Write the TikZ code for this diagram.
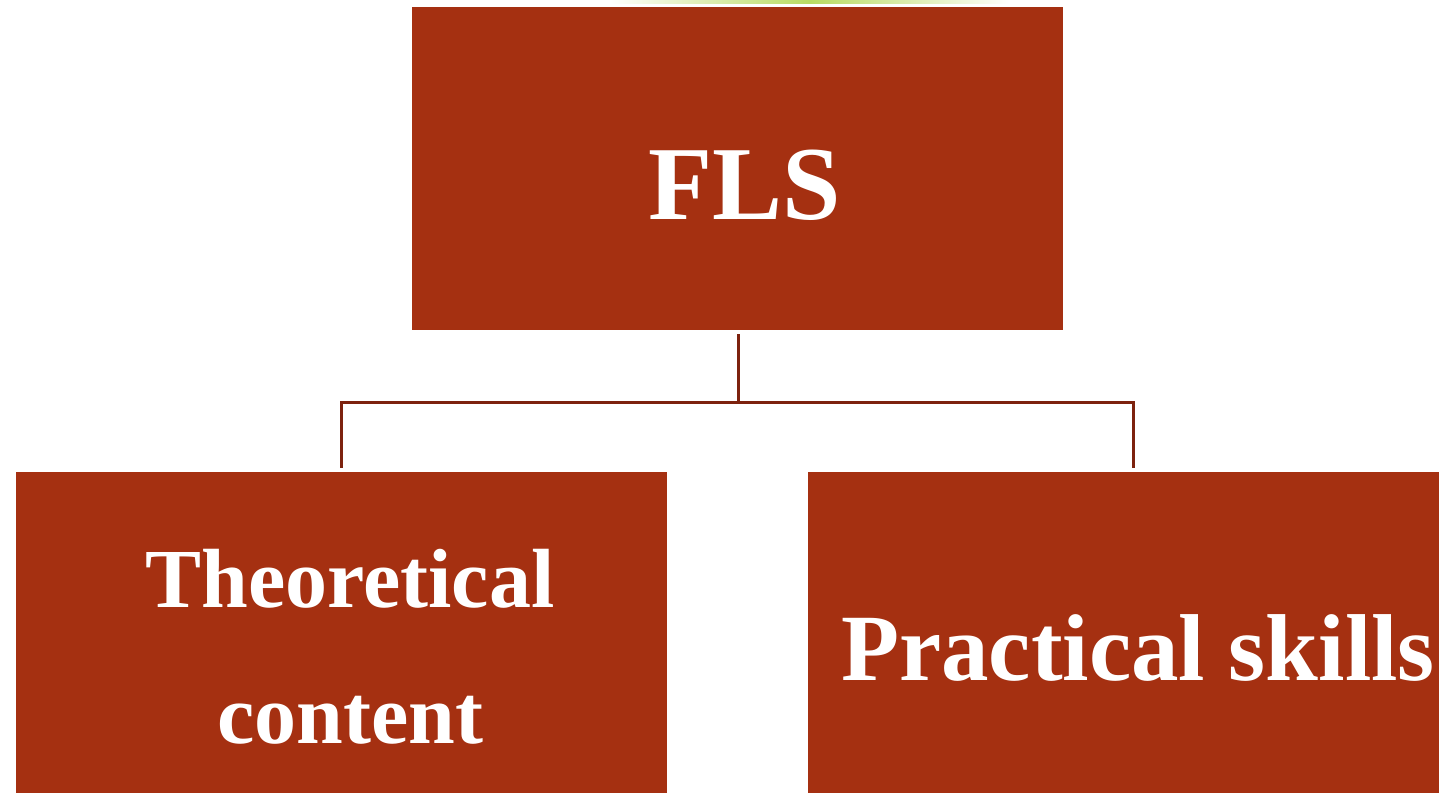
\documentclass[tikz,border=0pt]{standalone}
\usepackage{fontspec}
\setmainfont{Liberation Serif}
\definecolor{boxred}{RGB}{165,48,17}
\definecolor{linkred}{RGB}{125,34,14}
\definecolor{leaf}{RGB}{184,220,100}
\begin{document}
\begin{tikzpicture}[x=1pt,y=-1pt,
  box/.style={rectangle, fill=boxred, draw=none, inner sep=0pt,
    minimum width=651pt, minimum height=323pt},
  lbl/.style={text=white, font=\bfseries, inner sep=0pt},
  link/.style={draw=linkred, line width=3pt}]
  \useasboundingbox (0,0) rectangle (1439,792);
  \clip (0,0) rectangle (1439,792);
  % faint green band along the top edge
  \shade[left color=white, right color=white, middle color=leaf]
    (610,0) rectangle (1010,4);
  % boxes
  \node[box] (fls) at (737.5,168.5) {};
  \node[box] (theo) at (341,633.5) {};
  \node[box] (prac) at (1133,633.5) {};
  % labels
  \node[lbl, anchor=base, font=\bfseries\fontsize{105}{105}\selectfont]
    (flsT) at (745,219) {FLS};
  \node[lbl, anchor=base, font=\bfseries\fontsize{84}{84}\selectfont]
    (theoT1) at (350,607) {Theoretical};
  \node[lbl, anchor=base, font=\bfseries\fontsize{84}{84}\selectfont]
    (theoT2) at (350,743) {content};
  \node[lbl, anchor=base, font=\bfseries\fontsize{95}{95}\selectfont]
    (pracT) at (1138,680) {Practical skills};
  % connectors
  \coordinate (fork) at (738,402);
  \draw[link] ([yshift=-4pt]fls.south -| fork) -- (fork);
  \draw[link] (fork) -| ([yshift=4pt]theo.north);
  \draw[link] (fork) -| ([yshift=4pt]prac.north);
\end{tikzpicture}
\end{document}
